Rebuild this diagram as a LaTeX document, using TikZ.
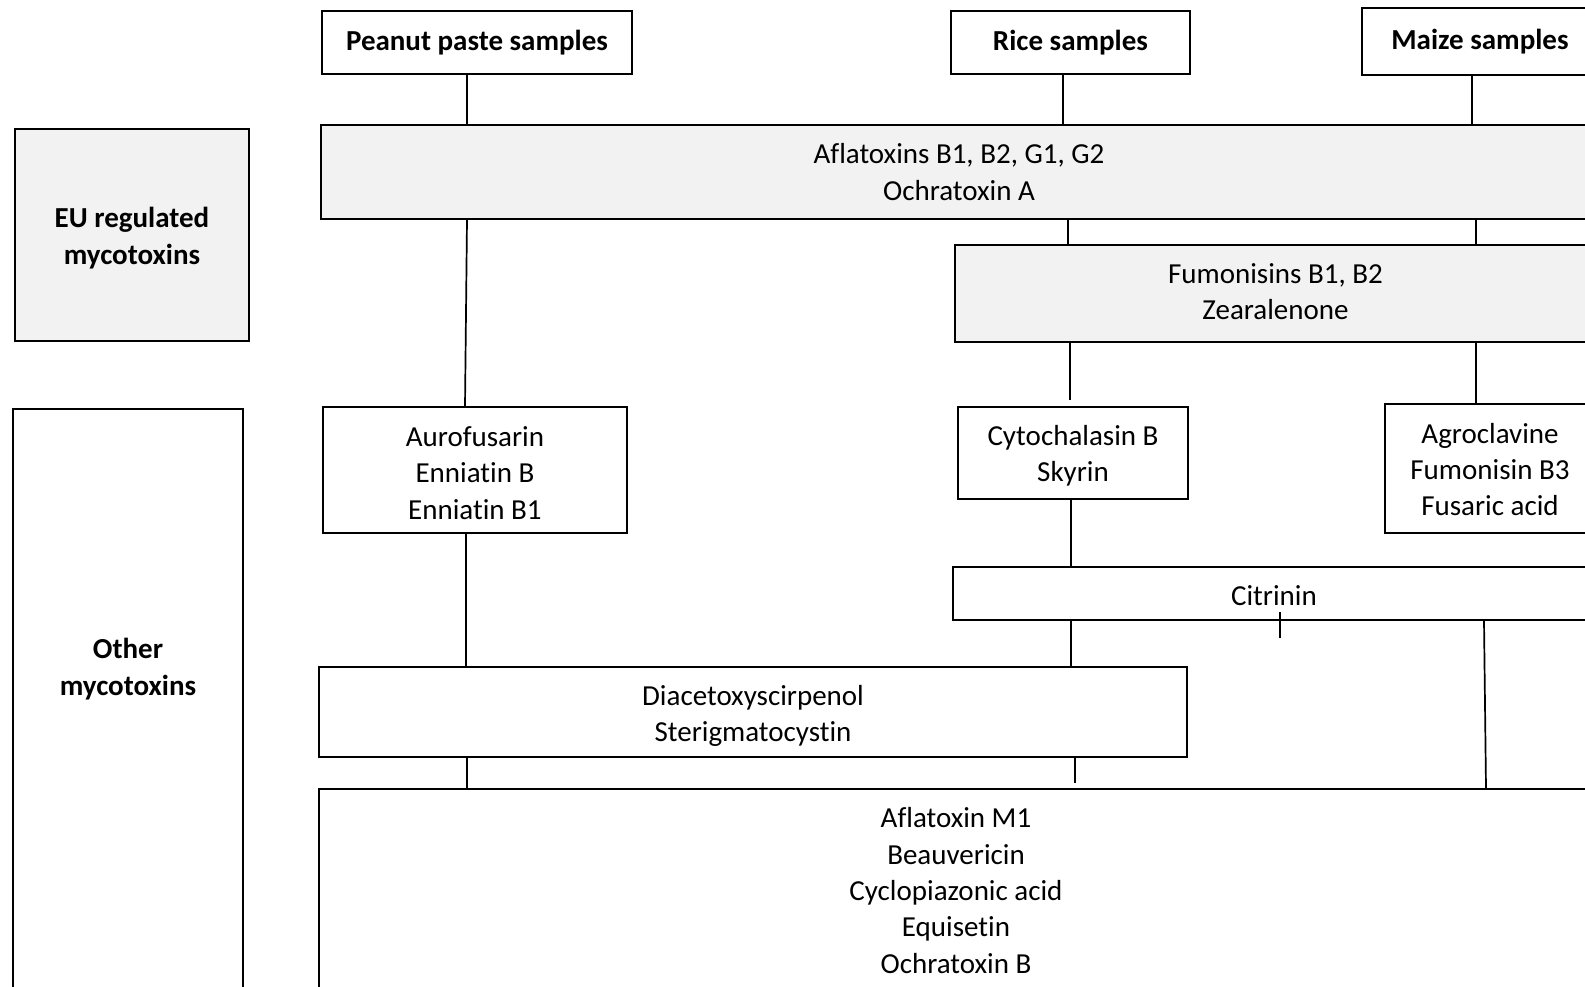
\documentclass[tikz,border=0pt]{standalone}
\usepackage{fontspec}
\setmainfont{Carlito}[Ligatures=NoCommon]
\definecolor{boxgray}{HTML}{F2F2F2}
\begin{document}
\begin{tikzpicture}[x=1pt,y=-1pt,
  box/.style={draw=black, line width=1.8pt, inner sep=0pt},
  gbox/.style={box, fill=boxgray},
  txt/.style={inner sep=0pt, align=center, font=\fontsize{29}{36.4}\selectfont},
  boldtxt/.style={txt, font=\fontsize{29}{36.4}\selectfont\bfseries},
  headbox/.style={box, align=center, font=\fontsize{29}{36.4}\selectfont\bfseries},
  sz/.style 2 args={minimum width=#1pt, minimum height=#2pt},
  conn/.style={line width=1.7pt}]
\useasboundingbox (0,0) rectangle (1585,986);
\fill[white] (0,0) rectangle (1585,986);
\clip (0,0) rectangle (1585,986);

% headers
\node[headbox, sz={310}{63}] (peanut) at (477,42.5) {Peanut paste samples};
\node[headbox, sz={239}{63}] (rice) at (1070.5,42.5) {Rice samples};
\node[headbox, sz={236}{67}] (maize) at (1480,41.5) {Maize samples};

% left side boxes
\node[gbox, sz={234}{212}] (eu) at (132,235) {};
\node[boldtxt, yshift=-3pt] (eutext) at (eu) {EU regulated\\mycotoxins};
\node[box, sz={230}{591}] (other) at (128,704.5) {};
\node[boldtxt] (othertext) at (128,669) {Other\\mycotoxins};

% EU regulated
\node[gbox, sz={1276}{94}] (afla) at (959,172) {};
\node[txt] (aflat) at (afla) {Aflatoxins B1, B2, G1, G2\\Ochratoxin A};
\node[gbox, sz={641}{97}] (fumo) at (1275.5,293.5) {};
\node[txt, yshift=2pt] (fumot) at (fumo) {Fumonisins B1, B2\\Zearalenone};

% other mycotoxins
\node[box, sz={304}{126}] (auro) at (475,470) {};
\node[txt, yshift=-3pt] (aurot) at (auro) {Aurofusarin\\Enniatin B\\Enniatin B1};
\node[box, sz={230}{92}] (cyto) at (1073,453) {};
\node[txt, yshift=-3pt] (cytot) at (cyto) {Cytochalasin B\\Skyrin};
\node[box, sz={210}{129}] (agro) at (1490,468.5) {};
\node[txt, yshift=-1pt] (agrot) at (agro) {Agroclavine\\Fumonisin B3\\Fusaric acid};
\node[box, sz={642}{53}] (citr) at (1274,593.5) {};
\node[txt, yshift=-2pt] (citrt) at (citr) {Citrinin};
\node[box, sz={868.5}{90}] (diac) at (753,712) {};
\node[txt, yshift=-4pt] (diact) at (diac) {Diacetoxyscirpenol\\Sterigmatocystin};
\node[box, sz={1274}{201}] (m1) at (956,889.5) {};
\node[txt, yshift=-1pt] (m1t) at (m1) {Aflatoxin M1\\Beauvericin\\Cyclopiazonic acid\\Equisetin\\Ochratoxin B};

% x positions of connectors
\coordinate (xa) at (467,0);
\coordinate (xb) at (1063,0);
\coordinate (xc) at (1472,0);
\coordinate (xd) at (1068,0);
\coordinate (xe) at (1476,0);
\coordinate (xf) at (465,0);
\coordinate (xg) at (1070,0);
\coordinate (xh) at (1071,0);
\coordinate (xi) at (1484,0);
\coordinate (xj) at (1486,0);
\coordinate (xk) at (466,0);
\coordinate (xl) at (1075,0);
\coordinate (ticktop) at (1280,612);
\coordinate (tickbot) at (1280,638);

\draw[conn] (peanut.south -| xa) -- (afla.north -| xa);
\draw[conn] (rice.south -| xb) -- (afla.north -| xb);
\draw[conn] (maize.south -| xc) -- (afla.north -| xc);
\draw[conn] (afla.south -| xd) -- (fumo.north -| xd);
\draw[conn] (afla.south -| xe) -- (fumo.north -| xe);
\draw[conn] (afla.south -| xa) -- (auro.north -| xf);
\draw[conn, shorten >=6pt] (fumo.south -| xg) -- (cyto.north -| xg);
\draw[conn] (fumo.south -| xe) -- (agro.north -| xe);
\draw[conn] (cyto.south -| xh) -- (citr.north -| xh);
\draw[conn] (citr.south -| xh) -- (diac.north -| xh);
\draw[conn] (ticktop) -- (tickbot);
\draw[conn] (citr.south -| xi) -- (m1.north -| xj);
\draw[conn] (auro.south -| xk) -- (diac.north -| xk);
\draw[conn] (diac.south -| xa) -- (m1.north -| xa);
\draw[conn, shorten >=5pt] (diac.south -| xl) -- (m1.north -| xl);
\end{tikzpicture}
\end{document}
